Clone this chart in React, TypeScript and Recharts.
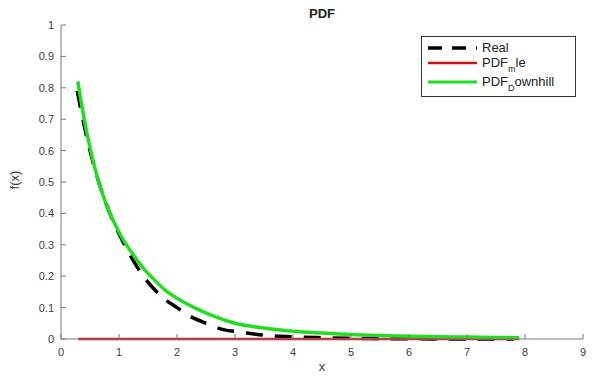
import { Line, LineChart, XAxis, YAxis } from "recharts";

const xTicks = [0, 1, 2, 3, 4, 5, 6, 7, 8, 9];
const yTicks = [0, 0.1, 0.2, 0.3, 0.4, 0.5, 0.6, 0.7, 0.8, 0.9, 1];

const realX = [0.28, 0.4, 0.5, 0.65, 0.8, 1.0, 1.2, 1.4, 1.6, 1.8, 2.0, 2.2, 2.5, 2.8, 3.1, 3.5, 4.0, 4.5, 5.0, 5.5, 6.0, 7.0, 7.8];
const realY = [0.79, 0.68, 0.6, 0.5, 0.42, 0.335, 0.265, 0.205, 0.16, 0.125, 0.1, 0.075, 0.05, 0.03, 0.022, 0.012, 0.007, 0.004, 0.002, 0.001, 0.0005, 0.0002, 0.0001];

const mleX = [0.3, 7.9];
const mleY = [0, 0];

const downhillX = [0.29, 0.4, 0.5, 0.65, 0.8, 1.0, 1.2, 1.4, 1.6, 1.8, 2.0, 2.3, 2.6, 3.0, 3.5, 4.0, 4.5, 5.0, 5.5, 6.0, 6.5, 7.0, 7.5, 7.9];
const downhillY = [0.82, 0.7, 0.61, 0.5, 0.42, 0.34, 0.28, 0.23, 0.19, 0.155, 0.13, 0.1, 0.075, 0.05, 0.035, 0.025, 0.019, 0.014, 0.011, 0.009, 0.007, 0.006, 0.005, 0.004];

const zip = (xs: number[], ys: number[]) => xs.map((x, i) => ({ x, y: ys[i] }));

const realData = zip(realX, realY);
const mleData = zip(mleX, mleY);
const downhillData = zip(downhillX, downhillY);

const FONT = "'Liberation Sans', Arial, sans-serif";
const AXIS = "#7a7a7a";
const LABEL = "#3c3c3c";

function BottomTick({ x, y, payload }: any) {
  return (
    <g>
      <line x1={x} y1={y} x2={x} y2={y - 5} stroke={AXIS} />
      <text x={x} y={y + 17} textAnchor="middle" fontSize={11} fill={LABEL} fontFamily={FONT}>
        {payload.value}
      </text>
    </g>
  );
}

function TopTick({ x, y }: any) {
  return <line x1={x} y1={y} x2={x} y2={y + 5} stroke={AXIS} />;
}

function LeftTick({ x, y, payload }: any) {
  return (
    <g>
      <line x1={x} y1={y} x2={x + 5} y2={y} stroke={AXIS} />
      <text x={x - 7} y={y + 4} textAnchor="end" fontSize={11} fill={LABEL} fontFamily={FONT}>
        {payload.value}
      </text>
    </g>
  );
}

function RightTick({ x, y }: any) {
  return <line x1={x} y1={y} x2={x - 5} y2={y} stroke={AXIS} />;
}

const legendRows = [
  { y: 12, stroke: "#000", dash: "14 10", width: 3.5, main: "Real", sub: "", rest: "" },
  { y: 27, stroke: "#d01010", dash: undefined, width: 2.5, main: "PDF", sub: "m", rest: "le" },
  { y: 46, stroke: "#22dd22", dash: undefined, width: 3, main: "PDF", sub: "D", rest: "ownhill" },
];

function LegendBox() {
  return (
    <svg width={155} height={61} style={{ position: "absolute", left: 421, top: 36 }}>
      <rect x={0.5} y={0.5} width={154} height={60} fill="#fff" stroke="#333" />
      {legendRows.map((r) => (
        <g key={r.main + r.sub}>
          <line x1={7} y1={r.y} x2={56} y2={r.y} stroke={r.stroke} strokeWidth={r.width} strokeDasharray={r.dash} />
          <text x={61} y={r.y + 4} fontSize={13} fill="#222" fontFamily={FONT}>
            {r.main}
            {r.sub && (
              <tspan fontSize={9} dy={5}>
                {r.sub}
              </tspan>
            )}
            {r.rest && <tspan dy={-5}>{r.rest}</tspan>}
          </text>
        </g>
      ))}
    </svg>
  );
}

export default function App() {
  return (
    <div style={{ position: "absolute", left: 0, top: 0, width: 604, height: 378, background: "#fff" }}>
      <LineChart width={604} height={378} margin={{ top: 25, right: 21, left: 21, bottom: 9 }}>
        <XAxis
          xAxisId="b"
          type="number"
          dataKey="x"
          domain={[0, 9]}
          ticks={xTicks}
          height={30}
          tickSize={0}
          tickMargin={0}
          tickLine={false}
          axisLine={{ stroke: AXIS }}
          tick={BottomTick}
          allowDuplicatedCategory={false}
        />
        <XAxis
          xAxisId="t"
          orientation="top"
          type="number"
          dataKey="x"
          domain={[0, 9]}
          ticks={xTicks}
          height={0}
          tickSize={0}
          tickMargin={0}
          tickLine={false}
          axisLine={{ stroke: AXIS }}
          tick={TopTick}
        />
        <YAxis
          yAxisId="l"
          type="number"
          domain={[0, 1]}
          ticks={yTicks}
          width={40}
          tickSize={0}
          tickMargin={0}
          tickLine={false}
          axisLine={{ stroke: AXIS }}
          tick={LeftTick}
        />
        <YAxis
          yAxisId="r"
          orientation="right"
          type="number"
          domain={[0, 1]}
          ticks={yTicks}
          width={0}
          tickSize={0}
          tickMargin={0}
          tickLine={false}
          axisLine={{ stroke: AXIS }}
          tick={RightTick}
        />
        <Line
          xAxisId="b"
          yAxisId="l"
          data={realData}
          dataKey="y"
          type="monotone"
          stroke="#000"
          strokeWidth={3.5}
          strokeDasharray="17 12"
          dot={false}
          isAnimationActive={false}
        />
        <Line
          xAxisId="b"
          yAxisId="l"
          data={mleData}
          dataKey="y"
          type="linear"
          stroke="#d01010"
          strokeWidth={2.5}
          dot={false}
          isAnimationActive={false}
        />
        <Line
          xAxisId="b"
          yAxisId="l"
          data={downhillData}
          dataKey="y"
          type="monotone"
          stroke="#22dd22"
          strokeWidth={3.5}
          dot={false}
          isAnimationActive={false}
        />
      </LineChart>
      <LegendBox />
      <div
        style={{
          position: "absolute",
          top: 6,
          left: 322,
          transform: "translateX(-50%)",
          fontFamily: FONT,
          fontWeight: "bold",
          fontSize: 13,
          color: "#222",
          lineHeight: "16px",
        }}
      >
        PDF
      </div>
      <div
        style={{
          position: "absolute",
          top: 359,
          left: 322,
          transform: "translateX(-50%)",
          fontFamily: FONT,
          fontSize: 13,
          color: LABEL,
          lineHeight: "16px",
        }}
      >
        x
      </div>
      <div
        style={{
          position: "absolute",
          left: 15,
          top: 180,
          transform: "translate(-50%, -50%) rotate(-90deg)",
          fontFamily: FONT,
          fontSize: 13,
          color: LABEL,
          lineHeight: "16px",
          whiteSpace: "nowrap",
        }}
      >
        f(x)
      </div>
    </div>
  );
}
